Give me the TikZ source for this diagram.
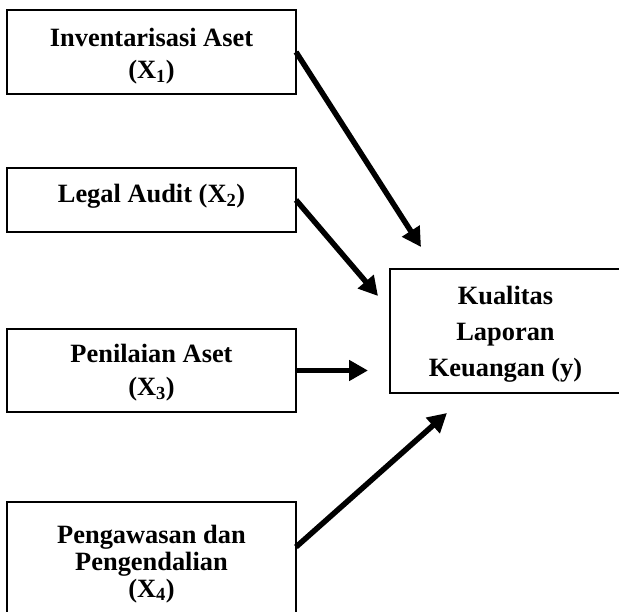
\documentclass[tikz,border=0pt]{standalone}
\usepackage{fontspec}
\setmainfont{Liberation Serif}
\usetikzlibrary{arrows.meta,calc}
\begin{document}
\begin{tikzpicture}[x=1pt,y=-1pt,
  box/.style={draw=black,line width=1.6pt,inner sep=0pt,outer sep=0pt},
  lbl/.style={anchor=base,inner sep=0pt,font=\fontsize{26.4pt}{32pt}\selectfont\bfseries},
  arr/.style={line width=5.5pt,-{Triangle[length=19pt,width=20pt]}}]
\useasboundingbox (0,0) rectangle (619,612);
% boxes
\node[box,minimum width=289pt,minimum height=84pt] (b1) at (151.5,52) {};
\node[box,minimum width=289pt,minimum height=64pt] (b2) at (151.5,200) {};
\node[box,minimum width=289pt,minimum height=83pt] (b3) at (151.5,370.5) {};
\node[box,minimum width=289pt,minimum height=124pt] (b4) at (151.5,564) {};
\node[box,minimum width=231pt,minimum height=124pt] (y) at (505.5,331) {};
% labels
\node[lbl] (l1a) at (151.5,47) {Inventarisasi Aset};
\node[lbl] (l1b) at (151.5,79) {(X\textsubscript{1})};
\node[lbl] (l2) at (151.5,203) {Legal Audit (X\textsubscript{2})};
\node[lbl] (l3a) at (151.5,363) {Penilaian Aset};
\node[lbl] (l3b) at (151.5,396) {(X\textsubscript{3})};
\node[lbl] (l4a) at (151.5,543) {Pengawasan dan};
\node[lbl] (l4b) at (151.5,570) {Pengendalian};
\node[lbl] (l4c) at (151.5,597) {(X\textsubscript{4})};
\node[lbl] (lya) at (505.5,305) {Kualitas};
\node[lbl] (lyb) at (505.5,341) {Laporan};
\node[lbl] (lyc) at (505.5,377) {Keuangan (y)};
% arrow ends
\coordinate (t1) at (421,247);
\coordinate (t2) at (378,296);
\coordinate (t3) at (368,370.5);
\coordinate (t4) at (447,413);
\coordinate (s4) at ($(b4.north east)+(0,45)$);
% arrows
\draw[arr] (b1.east) -- (t1);
\draw[arr] (b2.east) -- (t2);
\draw[arr] (b3.east) -- (t3);
\draw[arr] (s4) -- (t4);
\end{tikzpicture}
\end{document}
